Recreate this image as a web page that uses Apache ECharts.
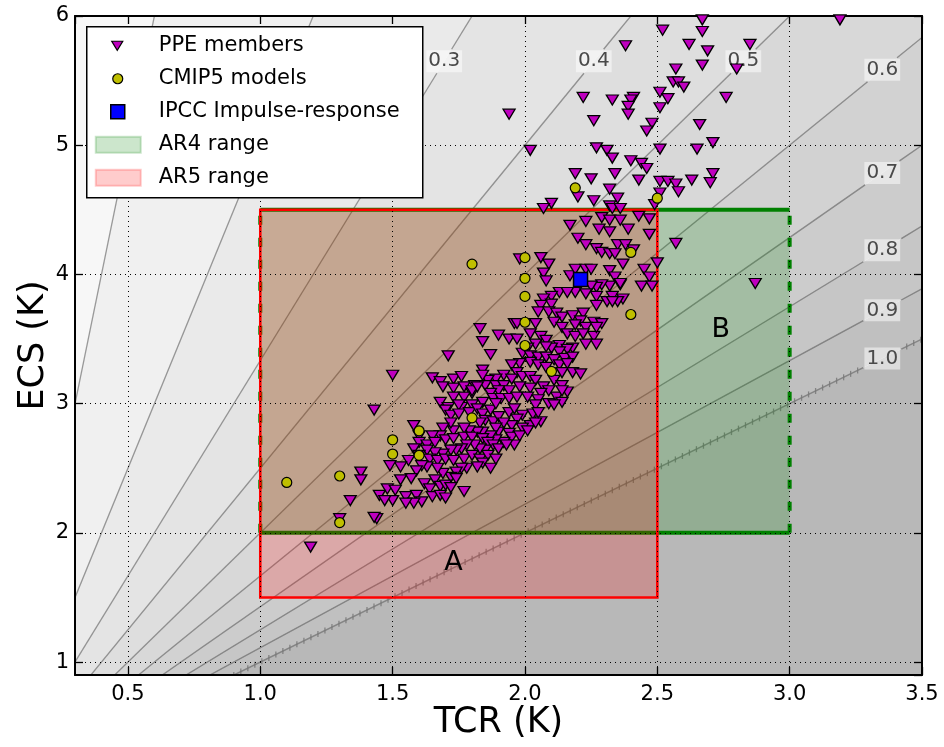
<!DOCTYPE html>
<html>
<head>
<meta charset="utf-8">
<script src="https://cdn.jsdelivr.net/npm/echarts@6/dist/echarts.min.js"></script>
<style>
  html, body { margin: 0; padding: 0; background: #fff; }
  #chart { width: 944px; height: 747px; }
</style>
</head>
<body>
<div id="chart"></div>
<script>
// axis extents
const tcrRange = [0.3, 3.5]
const ecsRange = [0.9, 6]

// TCR/ECS ratio contours (lines through the origin)
const ratioLevels = [0.1, 0.2, 0.3, 0.4, 0.5, 0.6, 0.7, 0.8, 0.9, 1.0]

// assessed ranges
const ar4TCR = [1.0, 3.0]
const ar4ECS = [2.0, 4.5]
const ar5TCR = [1.0, 2.5]
const ar5ECS = [1.5, 4.5]
const rangeNames = ['A', 'B']
const rangeNameTCR = [1.73, 2.74]
const rangeNameECS = [1.77, 3.57]

const ipccImpulse = [[2.21, 3.96]]

const cmip5Models = [
  [2.19, 4.67], [2.50, 4.59], [2.40, 4.17], [2.00, 4.13], [1.80, 4.08], [2.00, 3.97],
  [2.00, 3.83], [2.40, 3.69], [2.00, 3.63], [2.00, 3.45], [2.10, 3.25], [1.80, 2.89],
  [1.60, 2.79], [1.50, 2.72], [1.50, 2.61], [1.60, 2.60], [1.30, 2.44], [1.10, 2.39],
  [1.30, 2.08]
]

const ppeMembers = [
  // upper tail
  [2.67, 5.97], [2.67, 5.88], [2.52, 5.89], [2.38, 5.77], [2.62, 5.78], [2.69, 5.73], [2.85, 5.78],
  [2.67, 5.62], [2.57, 5.59], [2.80, 5.59], [2.56, 5.49], [2.58, 5.49], [2.60, 5.45], [2.51, 5.41],
  [2.54, 5.36], [2.41, 5.37], [2.40, 5.35], [2.39, 5.30], [2.39, 5.24], [2.76, 5.37], [2.22, 5.37],
  [2.33, 5.35], [2.51, 5.29], [1.94, 5.24], [2.26, 5.19], [2.48, 5.17], [2.46, 5.11], [2.66, 5.16],
  [2.71, 5.02], [2.02, 4.96], [2.27, 4.98], [2.31, 4.96], [2.51, 4.97], [2.65, 4.97], [3.19, 5.97],
  // middle
  [2.33, 4.90], [2.40, 4.88], [2.44, 4.86], [2.46, 4.82], [2.19, 4.78], [2.25, 4.74], [2.34, 4.78],
  [2.43, 4.73], [2.51, 4.72], [2.54, 4.72], [2.57, 4.70], [2.58, 4.64], [2.63, 4.73], [2.71, 4.78],
  [2.70, 4.71], [2.20, 4.60], [2.32, 4.66], [2.35, 4.59], [2.26, 4.57], [2.32, 4.53], [2.33, 4.51],
  [2.51, 4.63], [2.49, 4.54], [2.10, 4.55], [2.07, 4.51], [2.17, 4.38], [2.23, 4.41], [2.29, 4.44],
  [2.32, 4.42], [2.36, 4.42], [2.43, 4.45], [2.47, 4.43], [2.28, 4.35], [2.32, 4.33], [2.39, 4.35],
  [2.47, 4.31], [2.20, 4.28], [2.23, 4.23], [2.27, 4.20], [2.29, 4.17], [2.32, 4.16], [2.35, 4.23],
  [2.38, 4.23], [2.41, 4.19], [2.34, 4.16], [2.50, 4.09], [2.57, 4.24], [2.37, 4.08], [2.45, 4.04],
  [2.47, 3.98], [2.44, 3.91], [2.48, 3.91], [1.98, 4.12], [2.06, 4.13], [2.09, 4.08], [2.07, 4.01],
  [2.08, 3.95], [2.17, 3.99], [2.19, 4.04], [2.23, 4.04], [2.25, 4.04], [2.32, 4.03], [2.34, 3.98],
  [2.36, 3.92], [2.32, 3.91], [2.29, 3.92], [2.27, 3.90], [2.25, 3.91], [2.19, 3.86], [2.13, 3.86],
  [2.10, 3.83], [2.07, 3.81], [2.27, 3.83], [2.33, 3.83], [2.37, 3.81], [2.87, 3.93], [2.36, 4.51],
  [2.36, 3.93],
  // core
  [2.16, 3.86], [2.23, 3.85], [2.31, 3.79], [2.35, 3.79], [2.27, 3.76], [2.10, 3.77], [2.06, 3.76],
  [2.05, 3.71], [2.09, 3.71], [2.12, 3.70], [2.14, 3.67], [2.18, 3.68], [2.22, 3.70], [2.21, 3.64],
  [2.26, 3.63], [2.29, 3.62], [1.96, 3.62], [1.97, 3.62], [2.04, 3.62], [2.11, 3.63], [2.14, 3.59],
  [2.19, 3.61], [2.23, 3.59], [1.83, 3.58], [1.90, 3.53], [1.94, 3.50], [1.97, 3.50], [2.02, 3.54],
  [2.06, 3.52], [2.08, 3.49], [2.13, 3.45], [2.16, 3.54], [2.19, 3.52], [2.22, 3.54], [2.26, 3.52],
  [2.27, 3.46], [2.23, 3.46], [2.18, 3.43], [2.16, 3.42], [2.13, 3.40], [2.10, 3.43], [2.08, 3.44],
  [2.04, 3.46], [2.01, 3.43], [1.99, 3.39], [1.84, 3.48], [1.71, 3.37], [1.87, 3.38], [2.02, 3.37],
  [2.05, 3.36], [2.08, 3.36], [2.11, 3.34], [2.15, 3.35], [2.18, 3.36], [2.13, 3.30], [2.16, 3.31],
  [2.18, 3.24], [2.14, 3.24], [2.21, 3.23], [2.02, 3.32], [2.05, 3.30], [2.08, 3.28], [1.98, 3.31],
  [1.95, 3.30], [1.97, 3.24], [1.92, 3.22], [1.89, 3.19], [1.84, 3.26], [1.86, 3.18], [1.65, 3.20],
  [1.68, 3.17], [1.69, 3.13], [1.73, 3.19], [1.76, 3.21], [1.73, 3.12], [1.77, 3.13], [1.81, 3.14],
  [1.85, 3.14], [1.89, 3.14], [1.92, 3.14], [1.95, 3.19], [1.99, 3.21], [2.02, 3.21], [2.04, 3.18],
  [2.07, 3.13], [2.11, 3.18], [2.14, 3.14], [2.16, 3.09], [2.12, 3.05], [2.09, 3.10], [2.06, 3.08],
  [2.02, 3.12], [1.98, 3.13], [1.94, 3.10], [1.90, 3.10], [1.87, 3.08], [1.80, 3.08], [1.77, 3.05],
  [1.73, 3.05], [1.68, 3.01], [1.71, 2.97], [1.76, 2.97], [1.80, 2.99], [1.84, 3.01], [1.88, 3.04],
  [1.91, 3.04], [1.94, 3.04], [1.97, 3.05], [2.01, 3.05], [2.05, 3.03], [2.09, 3.00], [2.14, 3.01],
  [2.11, 2.99],
  // lower
  [1.50, 3.22], [1.75, 2.99], [1.70, 2.95], [1.72, 2.91], [1.75, 2.92], [1.79, 2.93], [1.82, 2.96],
  [1.84, 2.92], [1.87, 2.95], [1.89, 3.00], [2.04, 2.99], [1.85, 2.87], [1.83, 2.85], [1.88, 2.86],
  [1.90, 2.90], [1.94, 2.93], [1.96, 2.96], [1.99, 2.91], [2.03, 2.92], [2.06, 2.86], [2.02, 2.83],
  [1.99, 2.81], [1.97, 2.88], [1.95, 2.83], [1.92, 2.85], [1.90, 2.78], [1.89, 2.81], [1.94, 2.77],
  [1.95, 2.74], [1.98, 2.75], [2.01, 2.79], [1.96, 2.68], [1.92, 2.70], [1.89, 2.72], [1.87, 2.75],
  [1.84, 2.78], [1.82, 2.78], [1.79, 2.79], [1.77, 2.81], [1.73, 2.79], [1.72, 2.85], [1.69, 2.81],
  [1.68, 2.75], [1.65, 2.75], [1.60, 2.75], [1.58, 2.83], [1.60, 2.70], [1.58, 2.65], [1.63, 2.68],
  [1.66, 2.70], [1.70, 2.72], [1.73, 2.73], [1.77, 2.74], [1.80, 2.74], [1.84, 2.73], [1.86, 2.70],
  [1.88, 2.68], [1.90, 2.65], [1.93, 2.68], [1.85, 2.64], [1.83, 2.65], [1.81, 2.68], [1.78, 2.68],
  [1.76, 2.65], [1.74, 2.64], [1.72, 2.64], [1.69, 2.61], [1.66, 2.62], [1.63, 2.64], [1.60, 2.60],
  [1.56, 2.56], [1.53, 2.51], [1.49, 2.52], [1.64, 2.57], [1.67, 2.56], [1.70, 2.57], [1.73, 2.56],
  [1.77, 2.57], [1.80, 2.60], [1.83, 2.57], [1.86, 2.60], [1.89, 2.57], [1.84, 2.54], [1.82, 2.51],
  [1.78, 2.50], [1.76, 2.50], [1.74, 2.47], [1.72, 2.43], [1.69, 2.46], [1.67, 2.50], [1.63, 2.51],
  [1.61, 2.52], [1.59, 2.48], [1.57, 2.42], [1.53, 2.41], [1.48, 2.34], [1.51, 2.33], [1.55, 2.28],
  [1.59, 2.29], [1.62, 2.38], [1.66, 2.41], [1.68, 2.36], [1.64, 2.34], [1.70, 2.37], [1.74, 2.42],
  [1.77, 2.32], [1.87, 2.50], [1.61, 2.24], [1.58, 2.23], [1.55, 2.23], [1.50, 2.25], [1.45, 2.29],
  [1.65, 2.28], [1.68, 2.29], [1.72, 2.35], [1.38, 2.47], [1.38, 2.41], [1.34, 2.25], [1.44, 2.11],
  [1.43, 2.12], [1.47, 2.25], [1.70, 2.27], [1.43, 2.95], [1.30, 2.11], [1.19, 1.89], [1.80, 3.10],
  [1.82, 3.13], [1.84, 3.22], [2.04, 2.85], [2.14, 3.10], [2.05, 2.93], [2.33, 3.79], [2.27, 3.59]
]

// styling
const FONT = '"DejaVu Sans", sans-serif'
const bandShades = ['#f7f7f7', '#f0f0f0', '#eaeaea', '#e4e4e4', '#dedede', '#d8d8d8',
  '#d2d2d2', '#cccccc', '#c6c6c6', '#c0c0c0', '#b8b8b8']
const contourColor = 'rgba(40,40,40,0.45)'
const labelAtECS = 5.65   // contour labels sit on this ECS ...
const labelAtTCR = 3.35   // ... or this TCR, whichever is lower on the line
const FAR = 60

const chart = echarts.init(document.getElementById('chart'), null, { renderer: 'canvas' })

function renderBand(params, api) {
  const i = api.value(0)
  const lo = i === 0 ? 0 : ratioLevels[i - 1]
  const hi = i < ratioLevels.length ? ratioLevels[i] : null
  const pts = [[0, 0], [lo * FAR, FAR]]
  if (hi === null) pts.push([FAR, 0])
  else pts.push([hi * FAR, FAR])
  return {
    type: 'polygon',
    shape: { points: pts.map(p => api.coord(p)) },
    style: { fill: bandShades[i], stroke: null }
  }
}

function renderContour(params, api) {
  const r = api.value(0)
  const p0 = api.coord([0, 0])
  const p1 = api.coord([r * FAR, FAR])
  const e = Math.min(labelAtECS, labelAtTCR / r)
  const c = api.coord([r * e, e])
  const len = Math.hypot(p1[0] - p0[0], p1[1] - p0[1])
  const ux = (p1[0] - p0[0]) / len
  const uy = (p1[1] - p0[1]) / len
  const hw = 19, hh = 12
  const t = Math.min(hw / Math.abs(ux), hh / Math.abs(uy))
  const a = [c[0] - ux * t, c[1] - uy * t]
  const b = [c[0] + ux * t, c[1] + uy * t]
  const hatched = Math.abs(r - 1) < 1e-6
  const stroke = hatched ? 'rgba(120,120,120,0.85)' : contourColor
  const lw = hatched ? 1.5 : 1.3
  const children = [
    { type: 'line', shape: { x1: p0[0], y1: p0[1], x2: a[0], y2: a[1] }, style: { stroke, lineWidth: lw } },
    { type: 'line', shape: { x1: b[0], y1: b[1], x2: p1[0], y2: p1[1] }, style: { stroke, lineWidth: lw } }
  ]
  if (hatched) {
    const s = api.coord([ecsRange[0] * r, ecsRange[0]])
    const f = api.coord([tcrRange[1], tcrRange[1] / r])
    const L = Math.hypot(f[0] - s[0], f[1] - s[1])
    const tc = (c[0] - s[0]) * ux + (c[1] - s[1]) * uy
    for (let d = 0; d <= L; d += 7.8) {
      if (Math.abs(d - tc) < t) continue
      const x = s[0] + ux * d, y = s[1] + uy * d
      children.push({ type: 'line', shape: { x1: x, y1: y - 3, x2: x, y2: y + 3 }, style: { stroke, lineWidth: 1.3 } })
    }
  }
  children.push({
    type: 'text', x: c[0], y: c[1],
    style: {
      text: r.toFixed(1), font: '20px ' + FONT, fill: '#4a4a4a',
      align: 'center', verticalAlign: 'middle',
      backgroundColor: 'rgba(255,255,255,0.5)', padding: [2, 2, 0, 2]
    }
  })
  return { type: 'group', children }
}

function renderAR4(params, api) {
  const tl = api.coord([api.value(0), api.value(3)])
  const br = api.coord([api.value(2), api.value(1)])
  const green = '#008000'
  const dash = { stroke: green, lineWidth: 4, lineDash: [9, 13] }
  return {
    type: 'group', children: [
      { type: 'rect', shape: { x: tl[0], y: tl[1], width: br[0] - tl[0], height: br[1] - tl[1] }, style: { fill: 'rgba(0,128,0,0.2)' } },
      { type: 'line', shape: { x1: tl[0], y1: tl[1], x2: br[0], y2: tl[1] }, style: { stroke: green, lineWidth: 4 } },
      { type: 'line', shape: { x1: tl[0], y1: br[1], x2: br[0], y2: br[1] }, style: { stroke: green, lineWidth: 4 } },
      { type: 'line', shape: { x1: tl[0], y1: br[1], x2: tl[0], y2: tl[1] }, style: dash },
      { type: 'line', shape: { x1: br[0], y1: br[1], x2: br[0], y2: tl[1] }, style: dash }
    ]
  }
}

function renderAR5(params, api) {
  const tl = api.coord([api.value(0), api.value(3)])
  const br = api.coord([api.value(2), api.value(1)])
  return {
    type: 'group', children: [
      { type: 'rect', shape: { x: tl[0], y: tl[1], width: br[0] - tl[0], height: br[1] - tl[1] }, style: { fill: 'rgba(255,0,0,0.2)' } },
      { type: 'rect', shape: { x: tl[0], y: tl[1], width: br[0] - tl[0], height: br[1] - tl[1] }, style: { fill: null, stroke: '#ff0000', lineWidth: 2.6 } }
    ]
  }
}

function renderRangeName(params, api) {
  const p = api.coord([api.value(0), api.value(1)])
  return {
    type: 'text', x: p[0], y: p[1],
    style: { text: rangeNames[params.dataIndex], font: '27px ' + FONT, fill: '#000', align: 'center', verticalAlign: 'middle' }
  }
}

const tickCommon = { inside: true, length: 8, lineStyle: { color: '#000', width: 1.3 } }
const lineCommon = { show: true, onZero: false, lineStyle: { color: '#000', width: 2 } }

// legend drawn by hand (mixed marker sizes)
const legendRows = [19, 52, 85, 118, 151]
const legendText = ['PPE members', 'CMIP5 models', 'IPCC Impulse-response', 'AR4 range', 'AR5 range']
const LZ = 100
const legendItems = [
  { type: 'rect', z: LZ, shape: { x: 0, y: 0, width: 336, height: 171 }, style: { fill: '#fff', stroke: '#000', lineWidth: 1.5 } },
  { type: 'polygon', z: LZ, shape: { points: [[25, legendRows[0] - 4.5], [36, legendRows[0] - 4.5], [30.5, legendRows[0] + 4.5]] }, style: { fill: '#bf00bf', stroke: '#000', lineWidth: 1.2 } },
  { type: 'circle', z: LZ, shape: { cx: 31, cy: legendRows[1], r: 5 }, style: { fill: '#bfbf00', stroke: '#000', lineWidth: 1.2 } },
  { type: 'rect', z: LZ, shape: { x: 24, y: legendRows[2] - 7, width: 14, height: 14 }, style: { fill: '#0000ff', stroke: '#000', lineWidth: 1.5 } },
  { type: 'rect', z: LZ, shape: { x: 9, y: legendRows[3] - 8, width: 45, height: 16 }, style: { fill: 'rgba(0,128,0,0.2)', stroke: 'rgba(0,128,0,0.2)', lineWidth: 2 } },
  { type: 'rect', z: LZ, shape: { x: 9, y: legendRows[4] - 8, width: 45, height: 16 }, style: { fill: 'rgba(255,0,0,0.2)', stroke: 'rgba(255,0,0,0.2)', lineWidth: 2 } },
  ...legendText.map((txt, i) => ({
    type: 'text', z: LZ, x: 72, y: legendRows[i],
    style: { text: txt, font: '21px ' + FONT, fill: '#000', verticalAlign: 'middle' }
  }))
]

const option = {
  animation: false,
  backgroundColor: '#fff',
  grid: { left: 75, top: 16, width: 847, height: 659 },
  xAxis: [
    {
      type: 'value', min: tcrRange[0], max: tcrRange[1], z: 4,
      name: 'TCR (K)', nameLocation: 'middle', nameGap: 30, nameMoveOverlap: false,
      nameTextStyle: { fontSize: 35, fontFamily: FONT, color: '#000' },
      axisLine: lineCommon, axisTick: tickCommon,
      axisLabel: { showMinLabel: false, margin: 9, fontSize: 21, fontFamily: FONT, color: '#000', formatter: v => v.toFixed(1) },
      splitLine: { show: true, lineStyle: { color: '#000', width: 1, type: [1, 4] } }
    },
    {
      type: 'value', position: 'top', min: tcrRange[0], max: tcrRange[1], z: 4,
      axisLine: lineCommon, axisTick: tickCommon, axisLabel: { show: false }, splitLine: { show: false }
    }
  ],
  yAxis: [
    {
      type: 'value', min: ecsRange[0], max: ecsRange[1], z: 4,
      name: 'ECS (K)', nameLocation: 'middle', nameGap: 24, nameMoveOverlap: false,
      nameTextStyle: { fontSize: 35, fontFamily: FONT, color: '#000' },
      axisLine: lineCommon, axisTick: tickCommon,
      axisLabel: { showMinLabel: false, margin: 6, fontSize: 21, fontFamily: FONT, color: '#000' },
      splitLine: { show: true, lineStyle: { color: '#000', width: 1, type: [1, 4] } }
    },
    {
      type: 'value', position: 'right', min: ecsRange[0], max: ecsRange[1], z: 4,
      axisLine: lineCommon, axisTick: tickCommon, axisLabel: { show: false }, splitLine: { show: false }
    }
  ],
  series: [
    {
      type: 'custom', name: 'bands', clip: true, z: 1, silent: true,
      data: bandShades.map((_, i) => [i]), renderItem: renderBand
    },
    {
      type: 'custom', name: 'contours', clip: true, z: 2, silent: true,
      data: ratioLevels.map(r => [r]), renderItem: renderContour
    },
    {
      type: 'custom', name: 'AR4 range', clip: true, z: 3,
      data: [[ar4TCR[0], ar4ECS[0], ar4TCR[1], ar4ECS[1]]], renderItem: renderAR4
    },
    {
      type: 'custom', name: 'AR5 range', clip: true, z: 3,
      data: [[ar5TCR[0], ar5ECS[0], ar5TCR[1], ar5ECS[1]]], renderItem: renderAR5
    },
    {
      type: 'custom', name: 'range names', z: 3,
      data: rangeNameTCR.map((x, i) => [x, rangeNameECS[i]]), renderItem: renderRangeName
    },
    {
      type: 'scatter', name: 'PPE members', z: 6, clip: true,
      symbol: 'triangle', symbolRotate: 180, symbolSize: [12, 10],
      itemStyle: { color: '#bf00bf', borderColor: '#000', borderWidth: 1.3, opacity: 1 },
      data: ppeMembers
    },
    {
      type: 'scatter', name: 'CMIP5 models', z: 7, clip: true,
      symbol: 'circle', symbolSize: 10,
      itemStyle: { color: '#bfbf00', borderColor: '#000', borderWidth: 1.2, opacity: 1 },
      data: cmip5Models
    },
    {
      type: 'scatter', name: 'IPCC Impulse-response', z: 8, clip: true,
      symbol: 'rect', symbolSize: 14,
      itemStyle: { color: '#0000ff', borderColor: '#000', borderWidth: 1.5, opacity: 1 },
      data: ipccImpulse
    }
  ],
  graphic: [{ type: 'group', left: 86, top: 26, z: LZ, children: legendItems }]
}

chart.setOption(option)
</script>
</body>
</html>
